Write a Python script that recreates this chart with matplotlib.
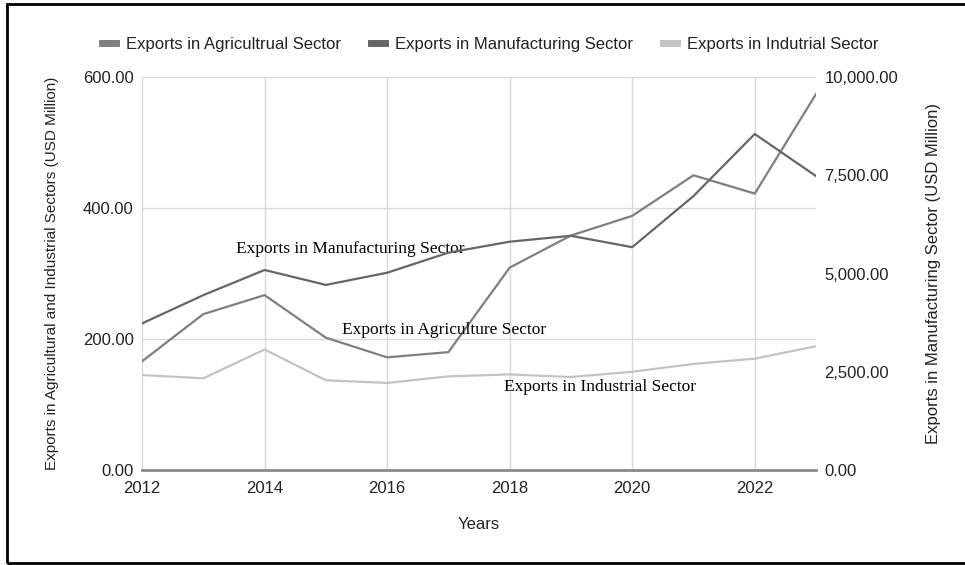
import matplotlib.pyplot as plt
from matplotlib.lines import Line2D
from matplotlib.patches import Rectangle
from matplotlib.ticker import FuncFormatter

plt.rcParams['font.family'] = ['Liberation Sans', 'DejaVu Sans']

# Data
years = [2012, 2013, 2014, 2015, 2016, 2017, 2018, 2019, 2020, 2021, 2022, 2023]
agriculture = [166, 238, 267, 202, 172, 180, 309, 358, 388, 450, 422, 574]
industrial = [145, 140, 184, 137, 133, 143, 146, 142, 150, 162, 170, 189]
manufacturing = [3730, 4450, 5090, 4710, 5020, 5530, 5810, 5960, 5670, 6970, 8550, 7480]

legend_labels = ['Exports in Agricultrual Sector', 'Exports in Manufacturing Sector',
                 'Exports in Indutrial Sector']

# Colors
agri_color = '#7f7f7f'
manu_color = '#666666'
ind_color = '#c3c3c3'
grid_color = '#d9d9d9'
text_color = '#222222'

fig = plt.figure(figsize=(9.65, 5.65), dpi=100)
ax = fig.add_axes([0.1472, 0.1681, 0.6984, 0.6956])
ax2 = ax.twinx()

ax.plot(years, agriculture, color=agri_color, linewidth=1.6, zorder=3)
ax.plot(years, industrial, color=ind_color, linewidth=1.6, zorder=3)
ax2.plot(years, manufacturing, color=manu_color, linewidth=1.6, zorder=3)

# Left axis
ax.set_xlim(2012, 2023)
ax.set_ylim(0, 600)
ax.set_yticks([0, 200, 400, 600])
ax.yaxis.set_major_formatter(FuncFormatter(lambda v, p: f'{v:,.2f}'))
ax.set_xticks([2012, 2014, 2016, 2018, 2020, 2022])

# Right axis
ax2.set_ylim(0, 10000)
ax2.set_yticks([0, 2500, 5000, 7500, 10000])
ax2.yaxis.set_major_formatter(FuncFormatter(lambda v, p: f'{v:,.2f}'))

ax.grid(True, color=grid_color, linewidth=1)
ax.set_axisbelow(True)
for a in (ax, ax2):
    for s in ('top', 'left', 'right', 'bottom'):
        a.spines[s].set_visible(False)
    a.tick_params(length=0, labelsize=12, colors=text_color)
ax2.axhline(0, color='#8a8a8a', linewidth=2, zorder=4, clip_on=False)
ax.tick_params(axis='y', pad=6)
ax.tick_params(axis='x', pad=8)
ax2.tick_params(axis='y', pad=6)

ax.set_xlabel('Years', fontsize=12, color=text_color, labelpad=15)
ax.set_ylabel('Exports in Agricultural and Industrial Sectors (USD Million)',
              fontsize=11, color=text_color, labelpad=17)
ax2.set_ylabel('Exports in Manufacturing Sector (USD Million)',
               fontsize=12, color=text_color, labelpad=20)

# In-chart annotations
serif = ['Liberation Serif', 'DejaVu Serif']
ax.text(2015.4, 338, 'Exports in Manufacturing Sector', family=serif, fontsize=12.5,
        ha='center', va='center', zorder=5)
ax.text(2016.93, 214, 'Exports in Agriculture Sector', family=serif, fontsize=12.5,
        ha='center', va='center', zorder=5)
ax.text(2019.47, 127, 'Exports in Industrial Sector', family=serif, fontsize=12.5,
        ha='center', va='center', zorder=5)

# Legend
handles = [Line2D([], [], color=c, linewidth=5) for c in (agri_color, manu_color, ind_color)]
fig.legend(handles, legend_labels, loc='center', bbox_to_anchor=(0.508, 0.922), ncol=3,
           frameon=False, fontsize=12, handlelength=0.85, handletextpad=0.6,
           columnspacing=1.8, labelcolor=text_color)

# Frame around the figure
fig.patches.append(Rectangle((7 / 965, 2 / 565), 1.0, 559 / 565, transform=fig.transFigure,
                             fill=False, edgecolor='black', linewidth=2))

fig.savefig('out.png', dpi=100, facecolor='white')
